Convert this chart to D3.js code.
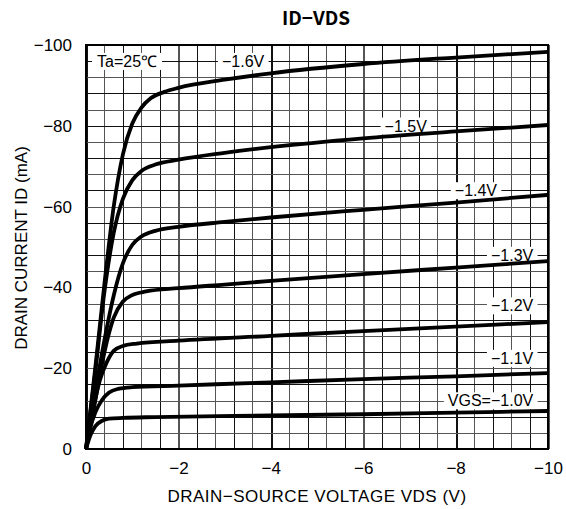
<!DOCTYPE html>
<html lang="en">
<head>
<meta charset="utf-8">
<title>ID-VDS</title>
<script src="https://d3js.org/d3.v7.min.js"></script>
<style>
  body { margin: 0; background: #fff; }
  text { font-family: "Liberation Sans", Arial, sans-serif; }
</style>
</head>
<body>
<script>

var width = 566,
    height = 509;

// VDS (V) / ID (mA) points, one list per gate voltage
var vgs10 = [[0,0],[-0.1,-3.5],[-0.2,-5.6],[-0.35,-7],[-0.5,-7.5],[-0.8,-7.7],[-1.5,-7.9],[-4,-8.3],[-6,-8.6],[-8,-9],[-10,-9.4]];
var vgs11 = [[0,0],[-0.1,-5.5],[-0.2,-9],[-0.35,-12.2],[-0.5,-14],[-0.7,-14.9],[-1,-15.3],[-2,-15.7],[-4,-16.5],[-6,-17.3],[-8,-18],[-10,-18.8]];
var vgs12 = [[0,0],[-0.15,-9.5],[-0.3,-17],[-0.45,-21.5],[-0.6,-24.3],[-0.8,-25.5],[-1.1,-26.1],[-2,-26.8],[-4,-28],[-6,-29.2],[-8,-30.3],[-10,-31.4]];
var vgs13 = [[0,0],[-0.2,-12],[-0.4,-24],[-0.6,-32.5],[-0.8,-36.5],[-1,-38.1],[-1.3,-39],[-2,-39.8],[-3,-40.7],[-4,-41.6],[-6,-43.3],[-8,-44.9],[-10,-46.5]];
var vgs14 = [[0,0],[-0.2,-14],[-0.4,-27],[-0.6,-38],[-0.8,-46],[-1,-50.5],[-1.2,-52.6],[-1.5,-54],[-2,-55],[-3,-56.2],[-4,-57.3],[-6,-59.2],[-8,-61],[-10,-62.9]];
var vgs15 = [[0,0],[-0.2,-19],[-0.4,-39],[-0.6,-53.5],[-0.8,-62],[-1,-66.5],[-1.2,-68.8],[-1.5,-70.4],[-2,-71.6],[-3,-73.3],[-4,-74.7],[-6,-76.9],[-8,-78.6],[-10,-80.2]];
var vgs16 = [[0,0],[-0.2,-20],[-0.4,-41],[-0.6,-60],[-0.8,-73],[-1,-80.5],[-1.2,-84.5],[-1.4,-86.8],[-1.7,-88.4],[-2,-89.4],[-3,-91.4],[-4,-93],[-6,-95.3],[-8,-96.9],[-10,-98.3]];

var curves = [vgs10, vgs11, vgs12, vgs13, vgs14, vgs15, vgs16];

// curve labels: text, VDS anchor, ID anchor
var labelText = ["VGS=−1.0V", "−1.1V", "−1.2V", "−1.3V", "−1.4V", "−1.5V", "−1.6V"];
var labelVds  = [-9.68, -9.68, -9.68, -9.68, -8.44, -6.92, -3.4];
var labelId   = [-12, -22.5, -35.5, -48, -64, -80, -96];
var labelAnchor = ["end", "end", "end", "end", "middle", "middle", "middle"];

var xTicks = [0, -2, -4, -6, -8, -10];
var yTicks = [0, -20, -40, -60, -80, -100];

var svg = d3.select("body").append("svg")
    .attr("width", width)
    .attr("height", height);

var x = d3.scaleLinear()
    .domain([0, -10])
    .range([86, 548]);

var y = d3.scaleLinear()
    .domain([0, -100])
    .range([449, 45]);

// fine grid, 25 x 25 cells
var gx = d3.range(0, 26).map(function(i) { return -i * 0.4; });
var gy = d3.range(0, 26).map(function(i) { return -i * 4; });

var grid = svg.append("g").attr("class", "grid")
    .attr("shape-rendering", "crispEdges");
grid.selectAll("line.v")
    .data(gx)
  .enter().append("line")
    .attr("class", "v")
    .attr("x1", function(d) { return Math.round(x(d)) + 0.5; })
    .attr("x2", function(d) { return Math.round(x(d)) + 0.5; })
    .attr("y1", y(0))
    .attr("y2", y(-100))
    .attr("stroke", function(d, i) { return i % 2 ? "#555" : "#111"; })
    .attr("stroke-width", function(d, i) { return i % 5 == 0 ? 2 : 1; });
grid.selectAll("line.h")
    .data(gy)
  .enter().append("line")
    .attr("class", "h")
    .attr("y1", function(d) { return Math.round(y(d)) + 0.5; })
    .attr("y2", function(d) { return Math.round(y(d)) + 0.5; })
    .attr("x1", x(0))
    .attr("x2", x(-10))
    .attr("stroke", function(d, i) { return i % 2 ? "#555" : "#111"; })
    .attr("stroke-width", 1);

// label boxes (drawn over grid, under curves)
var boxes = svg.append("g");
var labels = svg.append("g").attr("font-size", 16);

function addLabel(t, px, py, anchor, pad) {
  var txt = labels.append("text")
      .attr("x", px)
      .attr("y", py)
      .attr("dy", "0.36em")
      .attr("text-anchor", anchor)
      .text(t);
  var b = txt.node().getBBox();
  boxes.append("rect")
      .attr("x", b.x - pad)
      .attr("y", b.y)
      .attr("width", b.width + 2 * pad)
      .attr("height", b.height)
      .attr("fill", "#fff");
}

labelText.forEach(function(t, i) {
  addLabel(t, x(labelVds[i]), y(labelId[i]), labelAnchor[i], 4);
});
addLabel("Ta=25℃", 97, y(-96), "start", 5);

// curves
var line = d3.line()
    .x(function(d) { return x(d[0]); })
    .y(function(d) { return y(d[1]); })
    .curve(d3.curveMonotoneX);

svg.append("g")
  .selectAll("path")
    .data(curves)
  .enter().append("path")
    .attr("d", line)
    .attr("fill", "none")
    .attr("stroke", "#000")
    .attr("stroke-width", 3.8)
    .attr("stroke-linejoin", "round");

// frame
svg.append("rect")
    .attr("x", x(0))
    .attr("y", y(-100))
    .attr("width", x(-10) - x(0))
    .attr("height", y(0) - y(-100))
    .attr("fill", "none")
    .attr("stroke", "#000")
    .attr("stroke-width", 2);

function fmt(d) { return d == 0 ? "0" : "−" + Math.abs(d); }

var xAxis = svg.append("g")
    .attr("transform", "translate(0," + y(0) + ")")
    .call(d3.axisBottom(x).tickValues(xTicks).tickSize(0).tickPadding(13).tickFormat(fmt));
xAxis.select(".domain").remove();

var yAxis = svg.append("g")
    .attr("transform", "translate(" + x(0) + ",0)")
    .call(d3.axisLeft(y).tickValues(yTicks).tickSize(0).tickPadding(14).tickFormat(fmt));
yAxis.select(".domain").remove();

svg.selectAll(".tick text")
    .attr("font-family", "'Liberation Sans', Arial, sans-serif")
    .attr("font-size", 17)
    .attr("fill", "#000");

svg.append("text")
    .attr("x", 316)
    .attr("y", 25)
    .attr("text-anchor", "middle")
    .attr("font-size", 19)
    .attr("font-weight", "bold")
    .style("font-family", "'Noto Sans CJK JP', sans-serif")
    .text("ID−VDS");

svg.append("text")
    .attr("x", 317)
    .attr("y", 502)
    .attr("text-anchor", "middle")
    .attr("font-size", 17)
    .attr("letter-spacing", 0.5)
    .text("DRAIN−SOURCE VOLTAGE VDS (V)");

svg.append("text")
    .attr("transform", "translate(27,248) rotate(-90)")
    .attr("text-anchor", "middle")
    .attr("font-size", 17)
    .text("DRAIN CURRENT ID (mA)");

</script>
</body>
</html>
